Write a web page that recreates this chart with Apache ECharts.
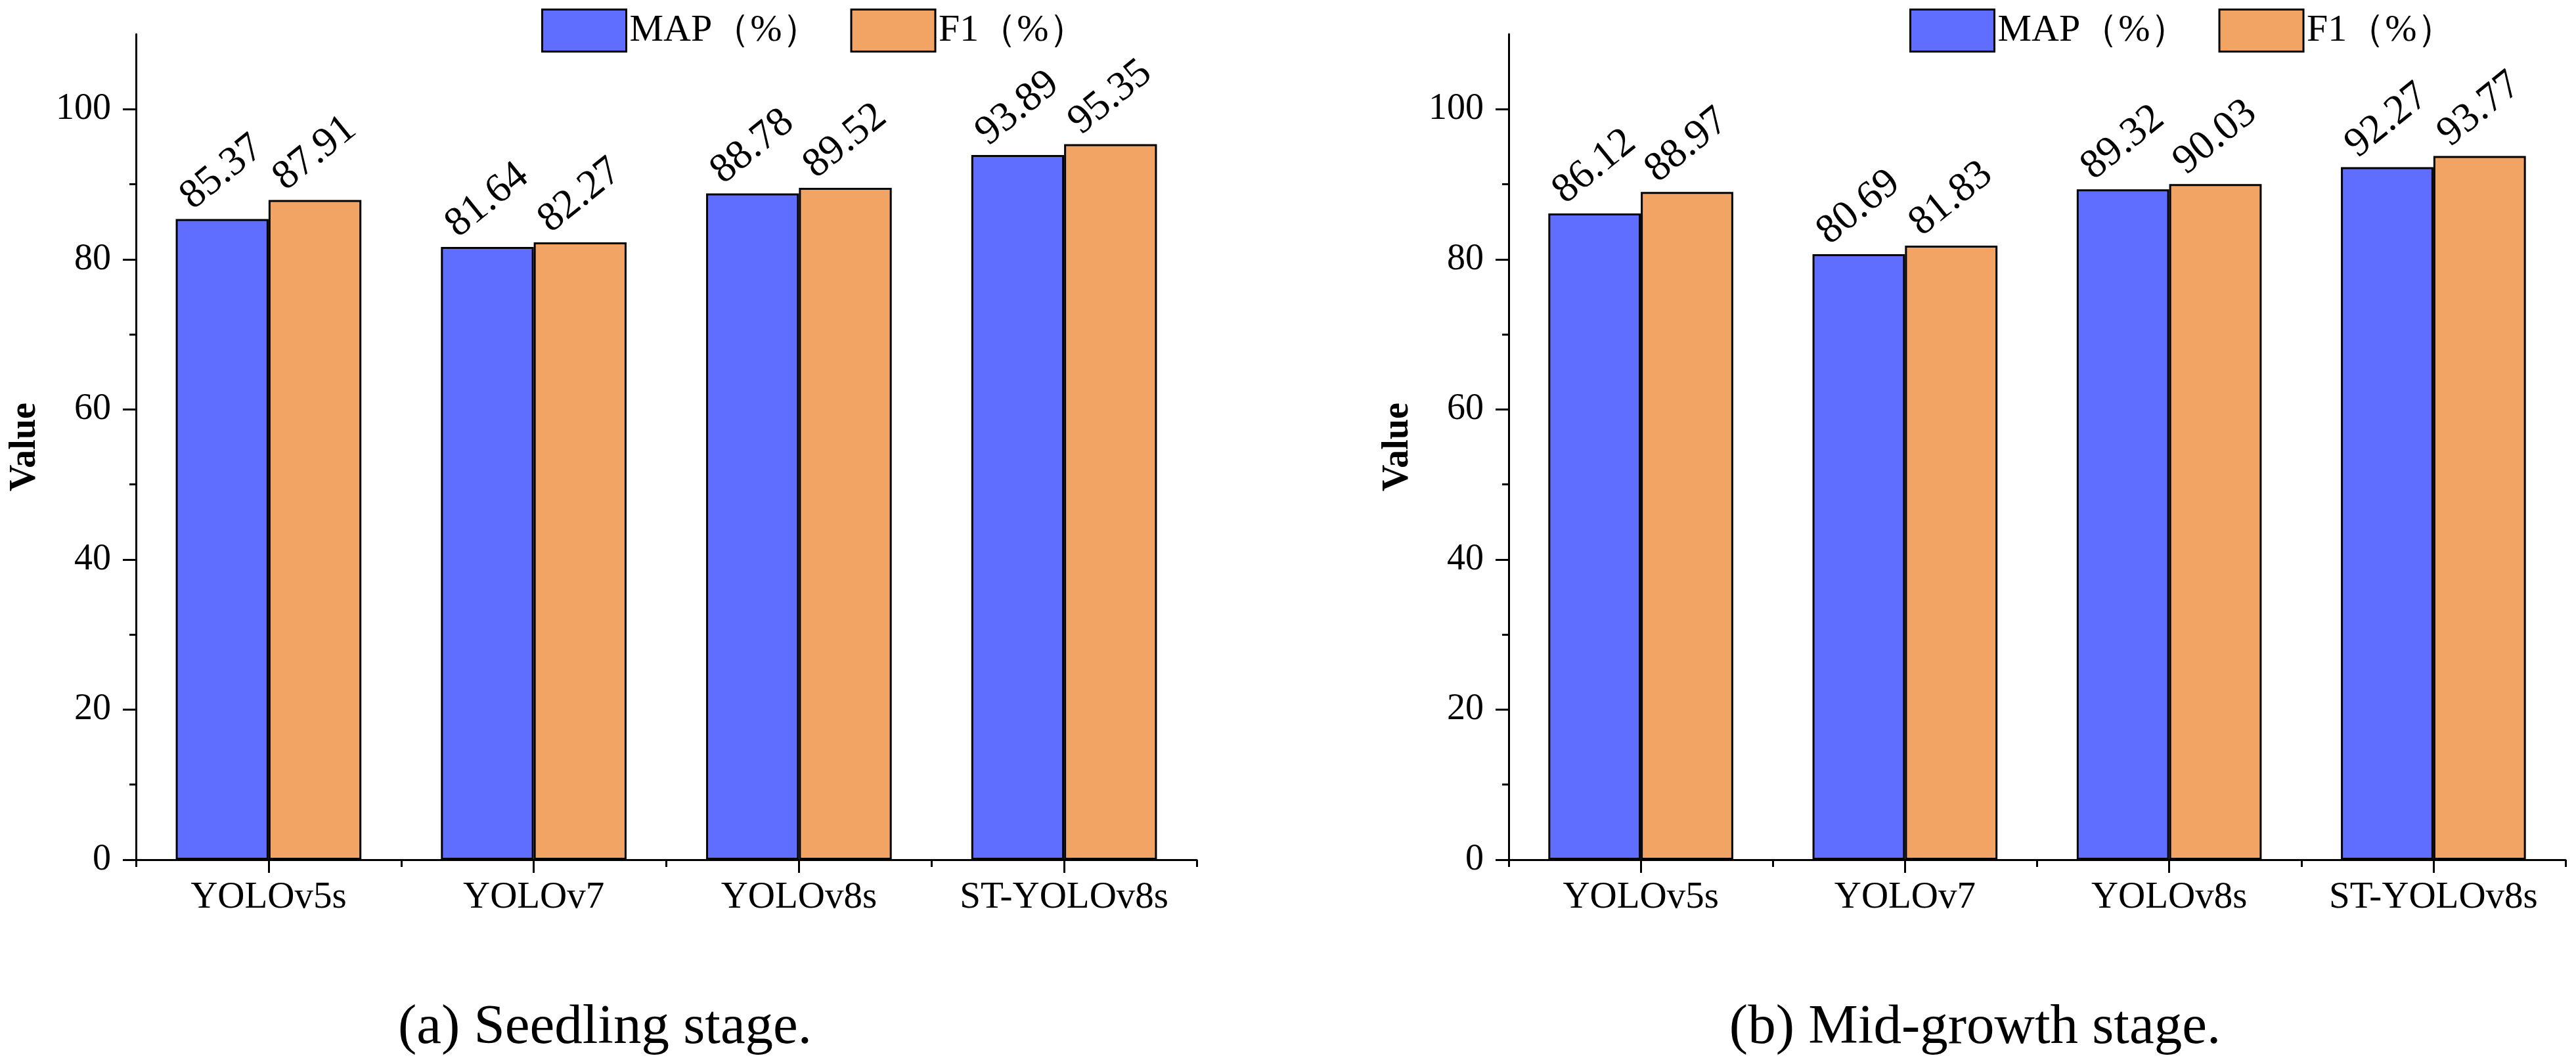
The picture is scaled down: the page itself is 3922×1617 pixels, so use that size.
<!DOCTYPE html>
<html>
<head>
<meta charset="utf-8">
<script src="https://cdn.jsdelivr.net/npm/echarts@6/dist/echarts.min.js"></script>
<style>
  html, body { margin: 0; padding: 0; background: #fff; }
  #chart { width: 3922px; height: 1617px; }
</style>
</head>
<body>
<div id="chart"></div>
<script>
var categories = ['YOLOv5s', 'YOLOv7', 'YOLOv8s', 'ST-YOLOv8s']
var seriesNames = ['MAP（%）', 'F1（%）']
// (a) seedling stage
var seedlingMap = [85.37, 81.64, 88.78, 93.89]
var seedlingF1 = [87.91, 82.27, 89.52, 95.35]
// (b) mid-growth stage
var midMap = [86.12, 80.69, 89.32, 92.27]
var midF1 = [88.97, 81.83, 90.03, 93.77]
var yTicks = [0, 20, 40, 60, 80, 100]
var captions = ['(a) Seedling stage.', '(b) Mid-growth stage.']

var FONT = 'Liberation Serif'
var BLUE = '#5f6eff'
var ORANGE = '#f2a465'

var Chart = echarts.init(document.getElementById('chart'))

let makeY = (grid) => ({
    type: 'value',
    gridIndex: grid,
    min: 0,
    max: 110,
    interval: 20,
    name: 'Value',
    nameLocation: 'middle',
    nameGap: 140,
    nameTextStyle: { fontFamily: FONT, fontSize: 56, fontWeight: 'bold', color: '#000' },
    axisLine: { show: true, lineStyle: { color: '#000', width: 3 } },
    axisTick: { show: true, length: 20, lineStyle: { color: '#000', width: 3 }, customValues: yTicks },
    minorTick: { show: true, splitNumber: 2, length: 10, lineStyle: { color: '#000', width: 3 } },
    splitLine: { show: false },
    axisLabel: { customValues: yTicks, margin: 38, fontFamily: FONT, fontSize: 56, color: '#000' }
})

let makeX = (grid) => ({
    type: 'category',
    gridIndex: grid,
    data: categories,
    axisLine: { show: true, lineStyle: { color: '#000', width: 3 } },
    axisTick: { show: true, length: 11, lineStyle: { color: '#000', width: 3 } },
    axisLabel: { interval: 0, margin: 30, fontFamily: FONT, fontSize: 57, color: '#000' }
})

// second category axis just for the longer ticks under each group
let makeXTicks = (grid) => ({
    type: 'category',
    gridIndex: grid,
    position: 'bottom',
    data: categories,
    axisLine: { show: false },
    axisTick: { show: true, interval: 0, alignWithLabel: true, length: 20, lineStyle: { color: '#000', width: 3 } },
    axisLabel: { show: false }
})

let makeBar = (name, data, xi, yi, color) => ({
    name: name,
    type: 'bar',
    xAxisIndex: xi,
    yAxisIndex: yi,
    data: data,
    barWidth: '35%',
    barGap: '0%',
    itemStyle: { color: color, borderColor: '#000', borderWidth: 3 },
    label: {
        show: true,
        position: 'top',
        distance: 71,
        rotate: 39,
        align: 'center',
        verticalAlign: 'middle',
        fontFamily: FONT,
        fontSize: 63,
        color: '#000',
        formatter: p => p.value.toFixed(2)
    }
})

let makeLegend = (left) => ({
    data: seriesNames,
    left: left,
    top: 8,
    icon: 'rect',
    itemWidth: 128,
    itemHeight: 64,
    itemGap: 46,
    itemStyle: { borderColor: '#000', borderWidth: 3 },
    textStyle: { fontFamily: FONT, fontSize: 58, color: '#000', padding: [0, 0, 0, 0] }
})

var option = {
    backgroundColor: '#fff',
    animation: false,
    title: [
        { text: captions[0], left: 916, top: 1518, textAlign: 'center',
          textStyle: { fontFamily: FONT, fontSize: 85, fontWeight: 'normal', color: '#000' } },
        { text: captions[1], left: 3002, top: 1518, textAlign: 'center',
          textStyle: { fontFamily: FONT, fontSize: 85, fontWeight: 'normal', color: '#000' } }
    ],
    legend: [makeLegend(819), makeLegend(2902)],
    grid: [
        { left: 207, top: 52, width: 1615, height: 1257 },
        { left: 2297, top: 52, width: 1609, height: 1257 }
    ],
    xAxis: [makeX(0), makeXTicks(0), makeX(1), makeXTicks(1)],
    yAxis: [makeY(0), makeY(1)],
    series: [
        makeBar(seriesNames[0], seedlingMap, 0, 0, BLUE),
        makeBar(seriesNames[1], seedlingF1, 0, 0, ORANGE),
        makeBar(seriesNames[0], midMap, 2, 1, BLUE),
        makeBar(seriesNames[1], midF1, 2, 1, ORANGE)
    ]
}
Chart.setOption(option)
</script>
</body>
</html>
